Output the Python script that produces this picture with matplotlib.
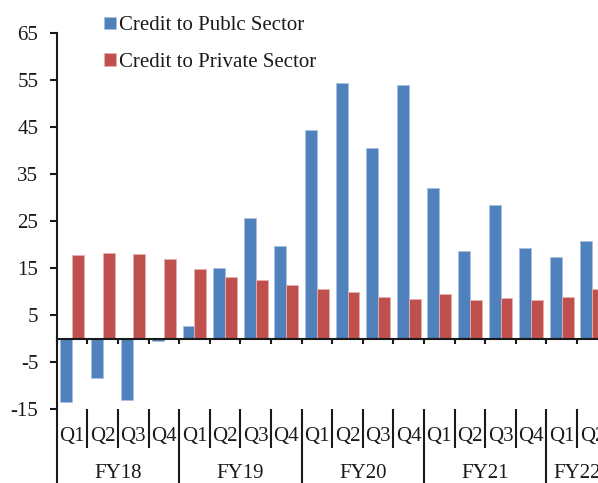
import matplotlib.pyplot as plt
import numpy as np
from matplotlib.transforms import blended_transform_factory

plt.rcParams['font.family'] = 'Liberation Serif'
plt.rcParams['axes.unicode_minus'] = False

years = ["FY18", "FY19", "FY20", "FY21", "FY22"]
quarters_per_year = [4, 4, 4, 4, 2]
quarters = ["Q1", "Q2", "Q3", "Q4"] * 4 + ["Q1", "Q2"]

public = [-13.6, -8.3, -13.1, -0.5,
          2.7, 15.0, 25.6, 19.7,
          44.4, 54.4, 40.6, 54.0,
          32.0, 18.6, 28.3, 19.3,
          17.4, 20.8]
private = [17.8, 18.1, 17.9, 16.9,
           14.7, 13.1, 12.4, 11.3,
           10.6, 9.8, 8.8, 8.5,
           9.4, 8.2, 8.6, 8.1,
           8.8, 10.6]

blue = "#4F81BD"
red = "#C0504D"
txt = "#1a1a1a"
fs = 15

W, H = 598, 483
fig = plt.figure(figsize=(W / 100, H / 100), dpi=100)
# axes runs a little past the right edge on purpose (last quarter is cut)
ax = fig.add_axes([56.7 / W, 74 / H, 551 / W, 376 / H])

x = np.arange(len(quarters))
bw = 0.39
ax.bar(x - bw / 2, public, bw, color=blue, edgecolor="#a9c0e0", linewidth=0.6,
       label="Credit to Publc Sector")
ax.bar(x + bw / 2, private, bw, color=red, edgecolor="#e6b0ae", linewidth=0.6,
       label="Credit to Private Sector")

ax.set_xlim(-0.5, len(quarters) - 0.5)
ax.set_ylim(-15, 65)
ax.set_yticks(np.arange(-15, 66, 10))
ax.tick_params(axis="y", direction="out", length=5.3, width=1.5, colors=txt,
               labelsize=fs, pad=8)
ax.set_xticks(np.arange(-0.5, len(quarters), 1))
ax.tick_params(axis="x", direction="out", length=3.6, width=1.5, colors=txt,
               labelbottom=False)

for s in ["top", "right"]:
    ax.spines[s].set_visible(False)
ax.spines["bottom"].set_position(("data", 0))
for s in ["bottom", "left"]:
    ax.spines[s].set_linewidth(1.5)
    ax.spines[s].set_color(txt)

# two-level category labels below the plot
tr = blended_transform_factory(ax.transData, fig.transFigure)
top_y = (H - 409) / H
mid_y = (H - 448) / H
for i, q in enumerate(quarters):
    ax.text(i, (H - 436) / H, q, transform=tr, ha="center", va="center",
            fontsize=fs, color=txt, clip_on=False)

bounds = np.cumsum([0] + quarters_per_year) - 0.5
for b in np.arange(-0.5, len(quarters) + 0.5, 1):
    y0 = 0 if b in bounds else mid_y
    ax.plot([b, b], [top_y, y0], transform=tr, color=txt, lw=1.5,
            clip_on=False, solid_capstyle="butt")

for k, yr in enumerate(years):
    c = (bounds[k] + bounds[k + 1]) / 2
    ax.text(c, (H - 474) / H, yr, transform=tr, ha="center", va="center",
            fontsize=fs, color=txt, clip_on=False)

ax.legend(loc="upper left", bbox_to_anchor=(96 / W, 1 - 8 / H),
          bbox_transform=fig.transFigure, frameon=False, fontsize=fs,
          handlelength=0.55, handleheight=0.55, handletextpad=0.15,
          labelspacing=0.85, borderaxespad=0, labelcolor=txt)

fig.savefig("out.png", dpi=100)
